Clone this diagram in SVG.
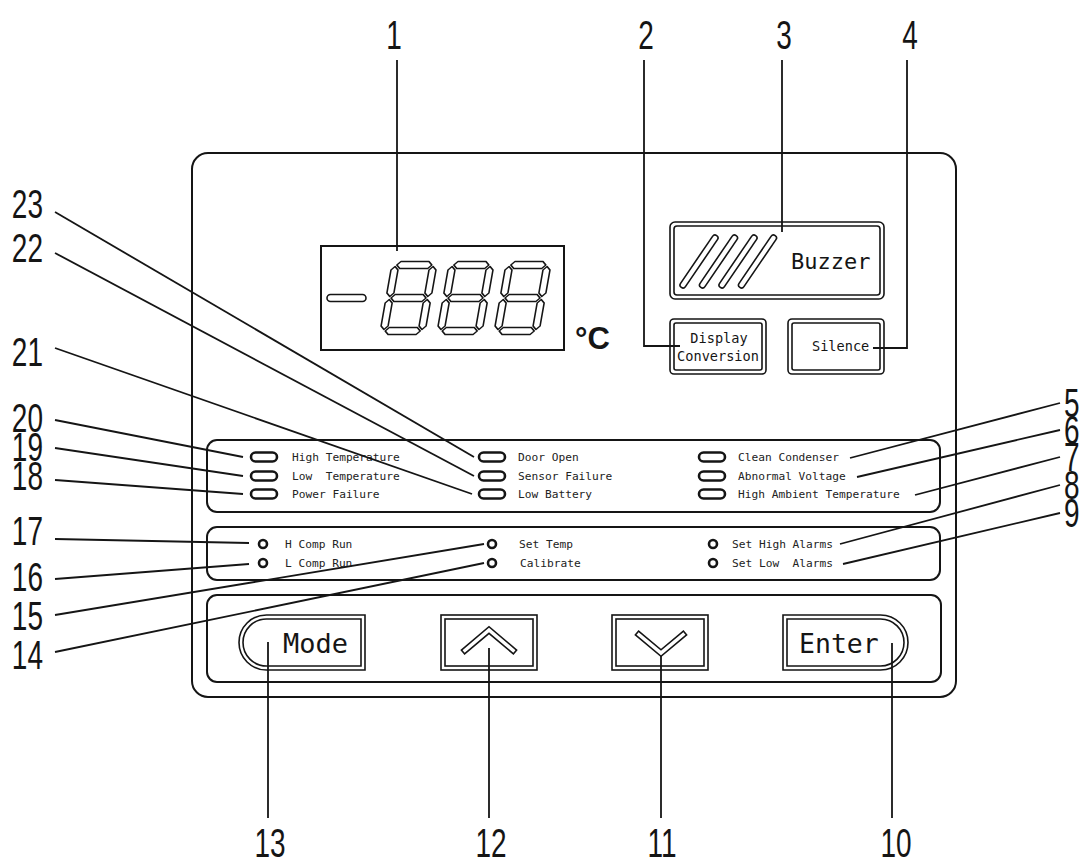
<svg xmlns="http://www.w3.org/2000/svg" xmlns:xlink="http://www.w3.org/1999/xlink" width="1084" height="867" viewBox="0 0 1084 867">
<style>
  .pn{fill:none;stroke:#151515;stroke-width:2}
  .thin{fill:none;stroke:#151515;stroke-width:1.6}
  .ln{fill:none;stroke:#151515;stroke-width:1.8}
  .led{fill:none;stroke:#151515;stroke-width:2.6}
  .seg{fill:none;stroke:#151515;stroke-width:1.6;stroke-linejoin:round}
  .mono{font-family:"DejaVu Sans Mono","Liberation Mono",monospace;fill:#222;font-size:11.2px;white-space:pre}
  .btn{font-family:"DejaVu Sans Mono","Liberation Mono",monospace;fill:#151515}
  .num{font-family:"Liberation Sans",Arial,sans-serif;font-size:40px;fill:#151515}
</style>
<defs>
  <g id="digit" class="seg">
    <polygon points="5.5,-70 9,-73.5 37,-73.5 40.5,-70 37,-66.5 9,-66.5"/>
    <polygon points="4,-68.5 7.5,-65 7.5,-42 4,-38.5 0.5,-42 0.5,-65"/>
    <polygon points="42,-68.5 45.5,-65 45.5,-42 42,-38.5 38.5,-42 38.5,-65"/>
    <polygon points="5.5,-37 9,-40.5 37,-40.5 40.5,-37 37,-33.5 9,-33.5"/>
    <polygon points="4,-35.5 7.5,-32 7.5,-9 4,-5.5 0.5,-9 0.5,-32"/>
    <polygon points="42,-35.5 45.5,-32 45.5,-9 42,-5.5 38.5,-9 38.5,-32"/>
    <polygon points="5.5,-4 9,-7.5 37,-7.5 40.5,-4 37,-0.5 9,-0.5"/>
  </g>
  <g id="slash">
    <line x1="0" y1="0" x2="32" y2="-47" stroke="#151515" stroke-width="7.5" stroke-linecap="round"/>
    <line x1="0" y1="0" x2="32" y2="-47" stroke="#fff" stroke-width="4.3" stroke-linecap="round"/>
  </g>
</defs>
<rect width="1084" height="867" fill="#fff"/>

<g id="panel">
  <rect class="pn" x="192" y="153" width="764" height="544" rx="16"/>
</g>

<g id="display">
  <rect class="pn" x="321" y="246" width="243" height="104"/>
  <rect class="seg" x="327" y="294.5" width="39" height="7" rx="3.5"/>
  <use xlink:href="#digit" href="#digit" transform="translate(379,335) skewX(-10)"/>
  <use xlink:href="#digit" href="#digit" transform="translate(436,335) skewX(-10)"/>
  <use xlink:href="#digit" href="#digit" transform="translate(493,335) skewX(-10)"/>
  <text x="575" y="349" font-family="Liberation Sans, Arial, sans-serif" font-weight="bold" font-size="31" fill="#151515">°C</text>
</g>

<g id="buzzer">
  <rect class="thin" x="670" y="222" width="214" height="77" rx="5"/>
  <rect class="thin" x="674" y="226" width="206" height="69" rx="3"/>
  <use xlink:href="#slash" href="#slash" transform="translate(683,285)"/>
  <use xlink:href="#slash" href="#slash" transform="translate(702.5,285)"/>
  <use xlink:href="#slash" href="#slash" transform="translate(722,285)"/>
  <use xlink:href="#slash" href="#slash" transform="translate(741.5,285)"/>
  <text class="btn" x="791" y="269" font-size="22">Buzzer</text>
</g>

<g id="display-conversion">
  <rect class="thin" x="670" y="319" width="96" height="55" rx="4"/>
  <rect class="thin" x="674" y="323" width="88" height="47" rx="2"/>
  <text class="btn" x="719" y="343" font-size="13.6" text-anchor="middle">Display</text>
  <text class="btn" x="718" y="361" font-size="13.6" text-anchor="middle">Conversion</text>
</g>

<g id="silence">
  <rect class="thin" x="788" y="319" width="96" height="55" rx="4"/>
  <rect class="thin" x="792" y="323" width="88" height="47" rx="2"/>
  <text class="btn" x="812" y="351" font-size="13.6">Silence</text>
</g>

<g id="alarm-panel">
  <rect class="pn" x="207" y="440" width="733" height="72" rx="10"/>
  <rect class="led" x="251" y="452.5" width="26" height="9" rx="4.5"/>
  <rect class="led" x="251" y="471.5" width="26" height="9" rx="4.5"/>
  <rect class="led" x="251" y="489.5" width="26" height="9" rx="4.5"/>
  <rect class="led" x="479" y="452.5" width="26" height="9" rx="4.5"/>
  <rect class="led" x="479" y="471.5" width="26" height="9" rx="4.5"/>
  <rect class="led" x="479" y="489.5" width="26" height="9" rx="4.5"/>
  <rect class="led" x="699" y="452.5" width="26" height="9" rx="4.5"/>
  <rect class="led" x="699" y="471.5" width="26" height="9" rx="4.5"/>
  <rect class="led" x="699" y="489.5" width="26" height="9" rx="4.5"/>
  <text class="mono" x="292" y="461" xml:space="preserve">High Temperature</text>
  <text class="mono" x="292" y="480" xml:space="preserve">Low  Temperature</text>
  <text class="mono" x="292" y="498" xml:space="preserve">Power Failure</text>
  <text class="mono" x="518" y="461" xml:space="preserve">Door Open</text>
  <text class="mono" x="518" y="480" xml:space="preserve">Sensor Failure</text>
  <text class="mono" x="518" y="498" xml:space="preserve">Low Battery</text>
  <text class="mono" x="738" y="461" xml:space="preserve">Clean Condenser</text>
  <text class="mono" x="738" y="480" xml:space="preserve">Abnormal Voltage</text>
  <text class="mono" x="738" y="498" xml:space="preserve">High Ambient Temperature</text>
</g>

<g id="status-panel">
  <rect class="pn" x="207" y="527" width="733" height="53" rx="10"/>
  <circle class="led" cx="263" cy="544" r="4"/>
  <circle class="led" cx="263" cy="563" r="4"/>
  <circle class="led" cx="492" cy="544" r="4"/>
  <circle class="led" cx="492" cy="563" r="4"/>
  <circle class="led" cx="713" cy="544" r="4"/>
  <circle class="led" cx="713" cy="563" r="4"/>
  <text class="mono" x="285" y="548" xml:space="preserve">H Comp Run</text>
  <text class="mono" x="285" y="567" xml:space="preserve">L Comp Run</text>
  <text class="mono" x="519" y="548" xml:space="preserve">Set Temp</text>
  <text class="mono" x="520" y="567" xml:space="preserve">Calibrate</text>
  <text class="mono" x="732" y="548" xml:space="preserve">Set High Alarms</text>
  <text class="mono" x="732" y="567" xml:space="preserve">Set Low  Alarms</text>
</g>

<g id="button-panel">
  <rect class="pn" x="207" y="595" width="734" height="87" rx="10"/>
</g>

<g id="mode">
  <path class="thin" d="M266.5,615 H365 V670 H266.5 A27.5,27.5 0 0 1 266.5,615 Z"/>
  <path class="thin" d="M266.5,619 H361 V666 H266.5 A23.5,23.5 0 0 1 266.5,619 Z"/>
  <text class="btn" x="283" y="653" font-size="27">Mode</text>
</g>

<g id="up">
  <rect class="thin" x="441" y="615" width="96" height="55"/>
  <rect class="thin" x="445" y="619" width="88" height="47"/>
  <polygon class="thin" points="461.4,650.1 489,626.7 516.6,650.1 513.4,653.9 489,633.3 464.6,653.9"/>
</g>

<g id="down">
  <rect class="thin" x="612" y="615" width="96" height="55"/>
  <rect class="thin" x="616" y="619" width="88" height="47"/>
  <polygon class="thin" points="635.4,634.9 661,656.3 686.6,634.9 683.4,631.1 661,649.8 638.6,631.1"/>
</g>

<g id="enter">
  <path class="thin" d="M783,615 H880.5 A27.5,27.5 0 0 1 880.5,670 H783 Z"/>
  <path class="thin" d="M787,619 H880.5 A23.5,23.5 0 0 1 880.5,666 H787 Z"/>
  <text class="btn" x="799" y="653" font-size="26.5">Enter</text>
</g>

<g id="connectors" class="ln">
  <line x1="397" y1="60" x2="397" y2="251"/>
  <polyline points="644,60 644,346 680,346"/>
  <line x1="782" y1="60" x2="782" y2="232"/>
  <polyline points="907,60 907,348 873,348"/>
  <line x1="850" y1="458" x2="1060" y2="403"/>
  <line x1="857" y1="477" x2="1060" y2="430"/>
  <line x1="915" y1="495" x2="1060" y2="457"/>
  <line x1="840" y1="544" x2="1060" y2="485"/>
  <line x1="843" y1="564" x2="1060" y2="513"/>
  <line x1="892" y1="643" x2="892" y2="818"/>
  <line x1="661" y1="656" x2="661" y2="818"/>
  <line x1="489" y1="648" x2="489" y2="818"/>
  <line x1="268" y1="642" x2="268" y2="818"/>
  <line x1="55" y1="652" x2="484" y2="563"/>
  <line x1="55" y1="615" x2="484" y2="544"/>
  <line x1="55" y1="579" x2="249" y2="564"/>
  <line x1="55" y1="539" x2="249" y2="543"/>
  <line x1="55" y1="480" x2="243" y2="494"/>
  <line x1="55" y1="448" x2="243" y2="476"/>
  <line x1="55" y1="420" x2="243" y2="457"/>
  <line x1="55" y1="348" x2="472" y2="494"/>
  <line x1="55" y1="253" x2="474" y2="476"/>
  <line x1="55" y1="212" x2="474" y2="457"/>
</g>

<g id="labels">
  <text class="num" text-anchor="middle" transform="translate(394,49) scale(0.7,1)">1</text>
  <text class="num" text-anchor="middle" transform="translate(646,49) scale(0.7,1)">2</text>
  <text class="num" text-anchor="middle" transform="translate(784,49) scale(0.7,1)">3</text>
  <text class="num" text-anchor="middle" transform="translate(910,49) scale(0.7,1)">4</text>
  <text class="num" transform="translate(1064,417) scale(0.7,1)">5</text>
  <text class="num" transform="translate(1064,444) scale(0.7,1)">6</text>
  <text class="num" transform="translate(1064,471) scale(0.7,1)">7</text>
  <text class="num" transform="translate(1064,499) scale(0.7,1)">8</text>
  <text class="num" transform="translate(1064,527) scale(0.7,1)">9</text>
  <text class="num" text-anchor="middle" transform="translate(896,857) scale(0.7,1)">10</text>
  <text class="num" text-anchor="middle" transform="translate(662,857) scale(0.7,1)">11</text>
  <text class="num" text-anchor="middle" transform="translate(491,857) scale(0.7,1)">12</text>
  <text class="num" text-anchor="middle" transform="translate(270,857) scale(0.7,1)">13</text>
  <text class="num" text-anchor="end" transform="translate(43,669) scale(0.7,1)">14</text>
  <text class="num" text-anchor="end" transform="translate(43,630) scale(0.7,1)">15</text>
  <text class="num" text-anchor="end" transform="translate(43,591) scale(0.7,1)">16</text>
  <text class="num" text-anchor="end" transform="translate(43,545) scale(0.7,1)">17</text>
  <text class="num" text-anchor="end" transform="translate(43,490) scale(0.7,1)">18</text>
  <text class="num" text-anchor="end" transform="translate(43,461) scale(0.7,1)">19</text>
  <text class="num" text-anchor="end" transform="translate(43,432) scale(0.7,1)">20</text>
  <text class="num" text-anchor="end" transform="translate(43,366) scale(0.7,1)">21</text>
  <text class="num" text-anchor="end" transform="translate(43,262) scale(0.7,1)">22</text>
  <text class="num" text-anchor="end" transform="translate(43,218) scale(0.7,1)">23</text>
</g>
</svg>
